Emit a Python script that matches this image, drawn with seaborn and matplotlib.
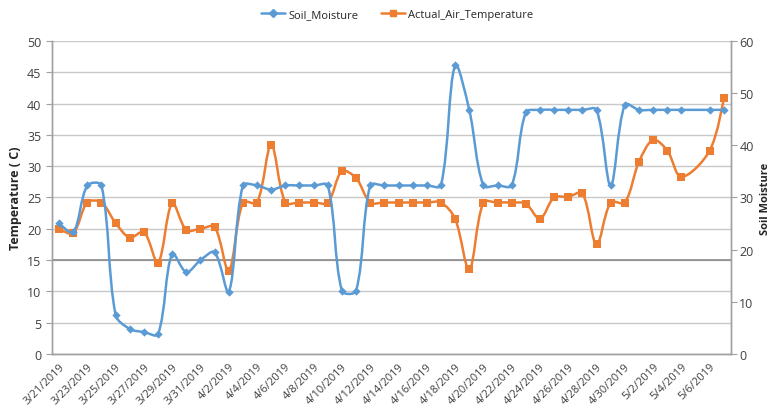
import numpy as np
import pandas as pd
import seaborn as sns
import matplotlib.pyplot as plt
from matplotlib.path import Path
from matplotlib.patches import PathPatch
from matplotlib.lines import Line2D

# one category per day, 3/21/2019 .. 5/7/2019
dates = pd.date_range("2019-03-21", "2019-05-07", freq="D")
date_labels = [f"{d.month}/{d.day}/{d.year}" for d in dates]

# left axis, deg C  (5/5 has no reading)
air_temp = [20.0, 19.3, 24.2, 24.2, 20.9, 18.6, 19.5, 14.6, 24.1, 19.8,
            20.0, 20.3, 13.3, 24.2, 24.2, 33.4, 24.2, 24.2, 24.2, 24.2,
            29.2, 28.1, 24.2, 24.2, 24.2, 24.2, 24.2, 24.2, 21.6, 13.5,
            24.2, 24.2, 24.2, 24.0, 21.6, 25.0, 25.1, 25.7, 17.5, 24.2,
            24.2, 30.7, 34.2, 32.5, 28.3, np.nan, 32.5, 40.9]

# right axis
soil_moisture = [25.1, 23.3, 32.3, 32.3, 7.5, 4.8, 4.2, 3.8, 19.2, 15.7,
                 18.0, 19.5, 11.9, 32.3, 32.3, 31.5, 32.3, 32.3, 32.3, 32.3,
                 12.1, 12.1, 32.3, 32.3, 32.3, 32.3, 32.3, 32.3, 55.3, 46.8,
                 32.3, 32.3, 32.3, 46.3, 46.8, 46.8, 46.8, 46.8, 46.8, 32.3,
                 47.8, 46.8, 46.8, 46.8, 46.8, np.nan, 46.8, 46.8]

blue = "#5B9BD5"
orange = "#ED7D31"


def smooth_path(a, xs, ys):
    # excel style smoothed line: bezier through the points, control arms
    # weighted by segment length on screen. gaps are joined.
    pts = np.array([(x, y) for x, y in zip(xs, ys) if not np.isnan(y)], float)
    px = a.transData.transform(pts)
    n = len(pts)
    verts = [tuple(pts[0])]
    codes = [Path.MOVETO]

    def dist(i, j):
        return np.hypot(*(px[j] - px[i]))

    for i in range(n - 1):
        i0, i3 = max(i - 1, 0), min(i + 2, n - 1)
        d01, d12, d23 = dist(i0, i), dist(i, i + 1), dist(i + 1, i3)
        f1 = d12 / (d01 + d12) / 3 if i > 0 else 0
        f2 = d12 / (d12 + d23) / 3 if i + 1 < n - 1 else 0
        c1 = pts[i] + (pts[i + 1] - pts[i0]) * f1
        c2 = pts[i + 1] - (pts[i3] - pts[i]) * f2
        verts += [tuple(c1), tuple(c2), tuple(pts[i + 1])]
        codes += [Path.CURVE4] * 3
    return Path(verts, codes)


sns.set_style("white")
plt.rcParams["font.family"] = ["Open Sans", "DejaVu Sans"]

df = pd.DataFrame({"idx": np.arange(len(dates)), "date": date_labels,
                   "air": air_temp, "soil": soil_moisture})

fig = plt.figure(figsize=(7.71, 4.14), dpi=100)
ax = fig.add_axes([0.0674, 0.1425, 0.8806, 0.7561])
ax2 = ax.twinx()

ax.set_xlim(-0.5, len(dates) - 0.5)
ax.set_ylim(0, 50)
ax2.set_ylim(0, 60)
ax.set_yticks(np.arange(0, 51, 5))
ax2.set_yticks(np.arange(0, 61, 10))

# temperature on the primary axis
ax.add_patch(PathPatch(smooth_path(ax, df["idx"], df["air"]), fill=False,
                       edgecolor=orange, lw=1.8, zorder=2))
sns.scatterplot(data=df, x="idx", y="air", marker="s", s=34, color=orange,
                linewidth=0, ax=ax, zorder=3, legend=False)

# soil moisture on the secondary axis
ax2.add_patch(PathPatch(smooth_path(ax2, df["idx"], df["soil"]), fill=False,
                        edgecolor=blue, lw=1.8, zorder=2))
sns.scatterplot(data=df, x="idx", y="soil", marker="D", s=18, color=blue,
                linewidth=0, ax=ax2, zorder=3, legend=False)
ax.set_xlim(-0.5, len(dates) - 0.5)
ax.set_ylim(0, 50)
ax2.set_ylim(0, 60)

ax.grid(axis="y", color="#c8c8c8", lw=1)
ax.grid(axis="x", visible=False)
ax.axhline(15, color="#8a8a8a", lw=1.2, zorder=1)
ax2.grid(False)

# labels every 2nd day, tick marks between categories
ax.set_xticks(df["idx"][::2])
ax.set_xticklabels(df["date"][::2], rotation=45, ha="right",
                   rotation_mode="anchor", fontsize=8, color="#404040")
ax.tick_params(axis="x", which="major", length=0, pad=5)
ax.set_xticks(np.arange(-0.5, len(dates), 2), minor=True)
ax.tick_params(axis="x", which="minor", length=4, color="#a0a0a0", direction="out")
ax.tick_params(axis="y", labelsize=9, labelcolor="#404040", length=4,
               color="#a0a0a0", direction="out", left=True)
ax2.tick_params(axis="y", labelsize=9, labelcolor="#404040", length=4,
                color="#a0a0a0", direction="out", right=True, pad=2)

ax.set_xlabel("")
ax.set_ylabel("Temperature ( C)", fontsize=9, fontweight="bold", labelpad=4)
ax2.set_ylabel("Soil Moisture", fontsize=8, fontweight="bold")
ax2.yaxis.set_label_coords(1.043, 0.5)

for a in (ax, ax2):
    a.spines["top"].set_visible(False)
    for side in ("left", "right", "bottom"):
        a.spines[side].set_color("#a0a0a0")
        a.spines[side].set_linewidth(1)

handles = [Line2D([], [], color=blue, lw=1.8, marker="D", markersize=4),
           Line2D([], [], color=orange, lw=1.8, marker="s", markersize=5)]
fig.legend(handles, ["Soil_Moisture", "Actual_Air_Temperature"],
           loc="upper center", bbox_to_anchor=(0.515, 1.0), ncol=2,
           frameon=False, fontsize=8, handlelength=2.2, columnspacing=2.0,
           handletextpad=0.3)

fig.savefig("out.png", dpi=100)
